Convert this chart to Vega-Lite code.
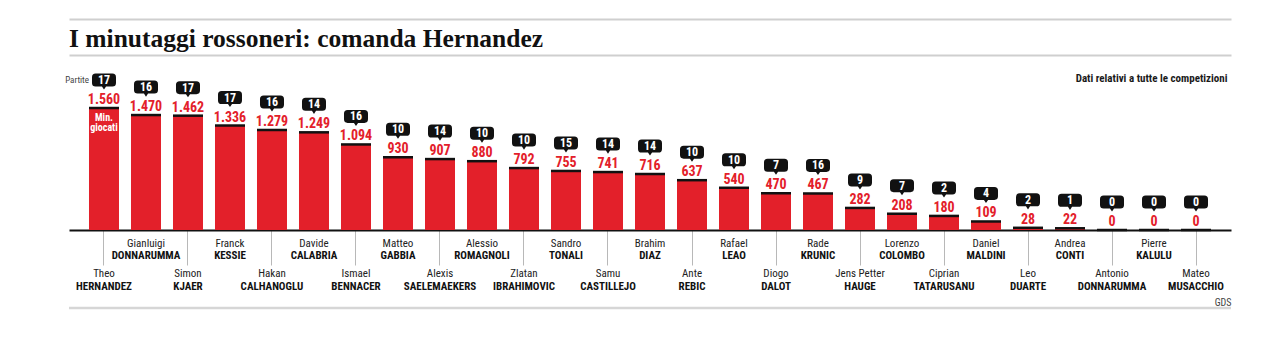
{
  "$schema": "https://vega.github.io/schema/vega-lite/v6.json",
  "width": 1162,
  "height": 290,
  "autosize": {"type": "none"},
  "padding": {"left": 69, "top": 18, "right": 49, "bottom": 52},
  "background": "white",
  "title": {
    "text": "I minutaggi rossoneri: comanda Hernandez",
    "anchor": "start",
    "frame": "group",
    "orient": "top",
    "offset": -54,
    "baseline": "alphabetic",
    "font": "Liberation Serif",
    "fontSize": 25.5,
    "fontWeight": "bold",
    "color": "#111111"
  },
  "data": {
    "values": [
      {"giocatore": "Theo Hernandez", "nome": "Theo", "cognome": "HERNANDEZ", "minuti": 1560, "partite": 17},
      {"giocatore": "Gianluigi Donnarumma", "nome": "Gianluigi", "cognome": "DONNARUMMA", "minuti": 1470, "partite": 16},
      {"giocatore": "Simon Kjaer", "nome": "Simon", "cognome": "KJAER", "minuti": 1462, "partite": 17},
      {"giocatore": "Franck Kessie", "nome": "Franck", "cognome": "KESSIE", "minuti": 1336, "partite": 17},
      {"giocatore": "Hakan Calhanoglu", "nome": "Hakan", "cognome": "CALHANOGLU", "minuti": 1279, "partite": 16},
      {"giocatore": "Davide Calabria", "nome": "Davide", "cognome": "CALABRIA", "minuti": 1249, "partite": 14},
      {"giocatore": "Ismael Bennacer", "nome": "Ismael", "cognome": "BENNACER", "minuti": 1094, "partite": 16},
      {"giocatore": "Matteo Gabbia", "nome": "Matteo", "cognome": "GABBIA", "minuti": 930, "partite": 10},
      {"giocatore": "Alexis Saelemaekers", "nome": "Alexis", "cognome": "SAELEMAEKERS", "minuti": 907, "partite": 14},
      {"giocatore": "Alessio Romagnoli", "nome": "Alessio", "cognome": "ROMAGNOLI", "minuti": 880, "partite": 10},
      {"giocatore": "Zlatan Ibrahimovic", "nome": "Zlatan", "cognome": "IBRAHIMOVIC", "minuti": 792, "partite": 10},
      {"giocatore": "Sandro Tonali", "nome": "Sandro", "cognome": "TONALI", "minuti": 755, "partite": 15},
      {"giocatore": "Samu Castillejo", "nome": "Samu", "cognome": "CASTILLEJO", "minuti": 741, "partite": 14},
      {"giocatore": "Brahim Diaz", "nome": "Brahim", "cognome": "DIAZ", "minuti": 716, "partite": 14},
      {"giocatore": "Ante Rebic", "nome": "Ante", "cognome": "REBIC", "minuti": 637, "partite": 10},
      {"giocatore": "Rafael Leao", "nome": "Rafael", "cognome": "LEAO", "minuti": 540, "partite": 10},
      {"giocatore": "Diogo Dalot", "nome": "Diogo", "cognome": "DALOT", "minuti": 470, "partite": 7},
      {"giocatore": "Rade Krunic", "nome": "Rade", "cognome": "KRUNIC", "minuti": 467, "partite": 16},
      {"giocatore": "Jens Petter Hauge", "nome": "Jens Petter", "cognome": "HAUGE", "minuti": 282, "partite": 9},
      {"giocatore": "Lorenzo Colombo", "nome": "Lorenzo", "cognome": "COLOMBO", "minuti": 208, "partite": 7},
      {"giocatore": "Ciprian Tatarusanu", "nome": "Ciprian", "cognome": "TATARUSANU", "minuti": 180, "partite": 2},
      {"giocatore": "Daniel Maldini", "nome": "Daniel", "cognome": "MALDINI", "minuti": 109, "partite": 4},
      {"giocatore": "Leo Duarte", "nome": "Leo", "cognome": "DUARTE", "minuti": 28, "partite": 2},
      {"giocatore": "Andrea Conti", "nome": "Andrea", "cognome": "CONTI", "minuti": 22, "partite": 1},
      {"giocatore": "Antonio Donnarumma", "nome": "Antonio", "cognome": "DONNARUMMA", "minuti": 0, "partite": 0},
      {"giocatore": "Pierre Kalulu", "nome": "Pierre", "cognome": "KALULU", "minuti": 0, "partite": 0},
      {"giocatore": "Mateo Musacchio", "nome": "Mateo", "cognome": "MUSACCHIO", "minuti": 0, "partite": 0}
    ]
  },
  "transform": [{"window": [{"op": "row_number", "as": "ordine"}]}],
  "encoding": {
    "x": {
      "field": "giocatore",
      "type": "nominal",
      "sort": null,
      "scale": {"paddingInner": 0.2857, "paddingOuter": 0.476},
      "axis": {
        "orient": "bottom",
        "offset": -78,
        "domainColor": "#111111",
        "domainWidth": 2,
        "labels": false,
        "ticks": true,
        "tickColor": "#b8b8b8",
        "tickWidth": 1,
        "tickSize": 35,
        "tickOpacity": {"condition": {"test": "round(datum.index*26)%2===0", "value": 1}, "value": 0},
        "title": "GDS",
        "titleAnchor": "end",
        "titleAlign": "right",
        "titleBaseline": "middle",
        "titleY": 72,
        "titleFont": "Roboto Condensed, Roboto",
        "titleFontSize": 10,
        "titleFontWeight": "normal",
        "titleColor": "#444444"
      }
    }
  },
  "layer": [
    {
      "mark": {"type": "bar", "color": "#e3202a"},
      "encoding": {
        "y": {
          "field": "minuti",
          "type": "quantitative",
          "scale": {"domain": [0, 2711], "range": [212, 0], "nice": false},
          "axis": {
            "orient": "right",
            "values": [2704, 2238],
            "grid": true,
            "gridColor": "#cfcfcf",
            "gridWidth": 2,
            "domain": false,
            "ticks": false,
            "labels": false,
            "title": "Dati relativi a tutte le competizioni",
            "titleAngle": 0,
            "titleAlign": "right",
            "titleBaseline": "middle",
            "titleX": -4,
            "titleY": 60,
            "titleFont": "Roboto Condensed, Roboto",
            "titleFontSize": 11,
            "titleFontWeight": "bold",
            "titleColor": "#1a1a1a"
          }
        }
      }
    },
    {
      "mark": {"type": "tick", "color": "#111111", "thickness": 2.5, "size": 30, "orient": "horizontal", "opacity": 1},
      "encoding": {"y": {"field": "minuti", "type": "quantitative"}}
    },
    {
      "mark": {"type": "text", "color": "#e3202a", "font": "Roboto Condensed, Roboto", "fontSize": 14, "fontWeight": "bold", "baseline": "alphabetic", "dy": -4},
      "encoding": {
        "y": {"field": "minuti", "type": "quantitative"},
        "text": {"field": "minuti", "type": "quantitative", "format": ","}
      }
    },
    {
      "mark": {
        "type": "point",
        "shape": "M-0.7,-0.54 L0.7,-0.54 Q1,-0.54 1,-0.24 L1,0.24 Q1,0.54 0.7,0.54 L0.17,0.54 L0,0.8 L-0.17,0.54 L-0.7,0.54 Q-1,0.54 -1,0.24 L-1,-0.24 Q-1,-0.54 -0.7,-0.54 Z",
        "filled": true,
        "fill": "#111111",
        "strokeWidth": 0,
        "opacity": 1,
        "size": 576,
        "yOffset": -28
      },
      "encoding": {"y": {"field": "minuti", "type": "quantitative"}}
    },
    {
      "mark": {"type": "text", "color": "white", "font": "Roboto Condensed, Roboto", "fontSize": 12, "fontWeight": "bold", "baseline": "middle", "yOffset": -28},
      "encoding": {
        "y": {"field": "minuti", "type": "quantitative"},
        "text": {"field": "partite", "type": "quantitative"}
      }
    },
    {
      "mark": {"type": "text", "color": "#444444", "font": "Roboto Condensed, Roboto", "fontSize": 9, "align": "right", "baseline": "middle", "dx": -15, "yOffset": -28},
      "encoding": {
        "y": {"field": "minuti", "type": "quantitative"},
        "text": {"condition": {"test": "datum.ordine === 1", "value": "Partite"}, "value": ""}
      }
    },
    {
      "mark": {"type": "text", "color": "white", "font": "Roboto Condensed, Roboto", "fontSize": 10, "fontWeight": "bold", "baseline": "top", "dy": 5, "lineHeight": 10, "lineBreak": "\n"},
      "encoding": {
        "y": {"field": "minuti", "type": "quantitative"},
        "text": {"condition": {"test": "datum.ordine === 1", "value": "Min.\ngiocati"}, "value": ""}
      }
    },
    {
      "mark": {"type": "text", "color": "#222222", "font": "Roboto Condensed, Roboto", "fontSize": 11, "baseline": "middle", "dy": 14},
      "encoding": {
        "y": {"datum": 0, "type": "quantitative"},
        "text": {"condition": {"test": "datum.ordine % 2 === 0", "field": "nome"}, "value": ""}
      }
    },
    {
      "mark": {"type": "text", "color": "#111111", "font": "Roboto Condensed, Roboto", "fontSize": 11, "fontWeight": "bold", "baseline": "middle", "dy": 26},
      "encoding": {
        "y": {"datum": 0, "type": "quantitative"},
        "text": {"condition": {"test": "datum.ordine % 2 === 0", "field": "cognome"}, "value": ""}
      }
    },
    {
      "mark": {"type": "text", "color": "#222222", "font": "Roboto Condensed, Roboto", "fontSize": 11, "baseline": "middle", "dy": 44},
      "encoding": {
        "y": {"datum": 0, "type": "quantitative"},
        "text": {"condition": {"test": "datum.ordine % 2 === 1", "field": "nome"}, "value": ""}
      }
    },
    {
      "mark": {"type": "text", "color": "#111111", "font": "Roboto Condensed, Roboto", "fontSize": 11, "fontWeight": "bold", "baseline": "middle", "dy": 57},
      "encoding": {
        "y": {"datum": 0, "type": "quantitative"},
        "text": {"condition": {"test": "datum.ordine % 2 === 1", "field": "cognome"}, "value": ""}
      }
    }
  ],
  "config": {
    "view": {"stroke": "#d6d6d6", "strokeWidth": 2.5, "strokeDash": [0, 1452, 1162, 290]},
    "locale": {"number": {"decimal": ",", "thousands": ".", "grouping": [3], "currency": ["€", ""]}},
    "font": "Roboto"
  }
}
